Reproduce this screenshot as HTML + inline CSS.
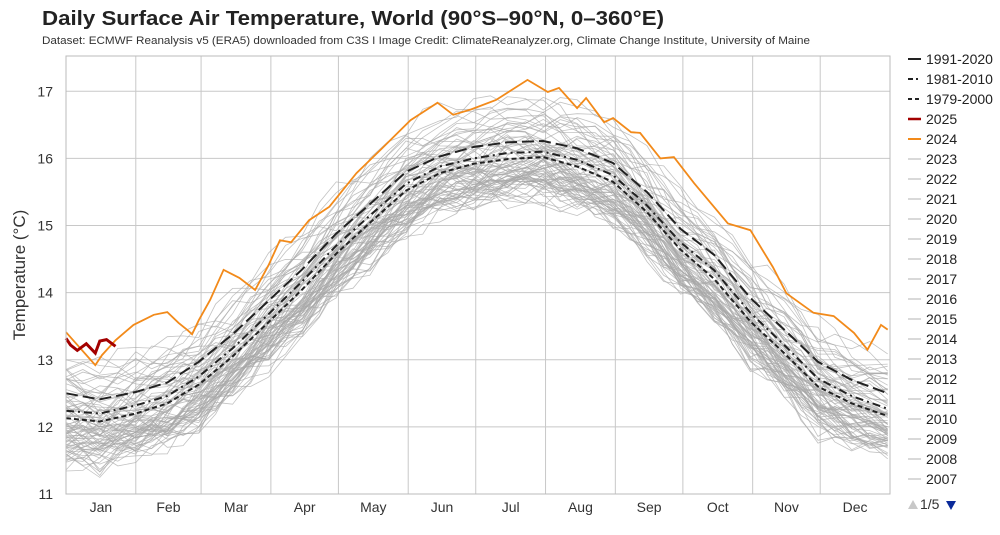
<!DOCTYPE html>
<html><head><meta charset="utf-8">
<style>
body{margin:0;background:#fff;width:1000px;height:530px;overflow:hidden;font-family:"Liberation Sans",sans-serif;}
svg text{font-family:"Liberation Sans",sans-serif;}
</style></head>
<body>
<svg id="chart" width="1000" height="530" viewBox="0 0 1000 530" xmlns="http://www.w3.org/2000/svg">
<text x="42" y="25" font-size="20.5" font-weight="bold" fill="#222" textLength="622" lengthAdjust="spacingAndGlyphs">Daily Surface Air Temperature, World (90°S–90°N, 0–360°E)</text>
<text x="42" y="44" font-size="10.8" fill="#333" textLength="768" lengthAdjust="spacingAndGlyphs">Dataset: ECMWF Reanalysis v5 (ERA5) downloaded from C3S I Image Credit: ClimateReanalyzer.org, Climate Change Institute, University of Maine</text>
<text transform="translate(25,275) rotate(-90)" text-anchor="middle" font-size="17" fill="#333">Temperature (°C)</text>
<g id="grid"></g>
<g id="grey"></g>
<g id="main"></g>
<g id="axes"></g>
<g id="legend"></g>
</svg>
<script>
const days = [0,15,31,45,59,74,90,105,120,135,151,166,181,196,212,227,243,258,273,288,304,319,334,349,365];
const clim9120 = [12.5,12.41,12.52,12.66,12.97,13.38,13.88,14.35,14.88,15.32,15.8,16.03,16.17,16.24,16.26,16.15,15.93,15.5,14.95,14.56,13.92,13.45,12.97,12.7,12.5];
const clim8110 = [12.24,12.2,12.32,12.46,12.75,13.17,13.68,14.17,14.7,15.15,15.62,15.88,16.0,16.08,16.1,15.98,15.75,15.3,14.75,14.33,13.7,13.22,12.72,12.46,12.27];
const clim7900 = [12.13,12.08,12.2,12.35,12.63,13.05,13.56,14.05,14.58,15.04,15.52,15.78,15.92,15.99,16.02,15.88,15.65,15.2,14.64,14.2,13.57,13.1,12.6,12.35,12.16];
const y2024Days = [0,13,16,22,30,39,45,50,54,56,59,64,70,77,84,90,95,100,108,117,129,141,153,165,172,180,191,205,214,219,227,231,239,243,251,255,264,270,279,294,304,314,320,332,341,350,356,362,365];
const y2024Vals = [13.41,12.92,13.07,13.29,13.52,13.67,13.71,13.55,13.44,13.38,13.59,13.89,14.34,14.22,14.04,14.41,14.78,14.75,15.08,15.28,15.78,16.17,16.57,16.83,16.65,16.73,16.87,17.17,16.99,17.05,16.75,16.9,16.54,16.6,16.39,16.38,16.0,16.02,15.63,15.03,14.93,14.38,13.99,13.7,13.65,13.4,13.15,13.52,13.45];
const y2025Days = [0,2,5,9,13,15,18,22];
const y2025Vals = [13.32,13.22,13.14,13.24,13.1,13.28,13.3,13.2];
const greyYears = [];for(let y=2023;y>=1940;y--)greyYears.push(y);
const greyOffsets = [0.62,0.45,0.38,0.52,0.4,0.3,0.42,0.6,0.48,0.28,0.2,0.25,0.3,0.12,0.22,0.28,0.15,0.1,0.2,0.08,0.32,0.1,0.02,0.05,0.12,-0.05,0.0,-0.08,0.05,-0.02,0.08,-0.1,-0.03,-0.12,0.0,-0.15,-0.06,-0.2,-0.1,-0.25,-0.05,-0.18,-0.28,-0.12,-0.22,-0.3,-0.08,-0.35,-0.2,-0.15,-0.32,-0.25,-0.4,-0.18,-0.3,-0.45,-0.22,-0.35,-0.28,-0.5,-0.15,-0.38,-0.3,-0.42,-0.25,-0.33,-0.48,-0.2,-0.36,-0.27,-0.44,-0.3,-0.52,-0.24,-0.38,-0.32,-0.4,-0.18,-0.46,-0.3,-0.35,-0.42,-0.26,-0.38];
const wig0 = [0.12,-0.1,0.05,0.18,-0.06,0.1,-0.12,0.02,0.14,-0.08,0.05,0.12,-0.05,0.1,-0.14,0.05,0.12,-0.1,0.02,0.14,-0.06,0.1,-0.12,0.05,0.12];
const wig1 = [-0.15,0.08,-0.04,-0.12,0.1,-0.02,0.14,-0.1,-0.03,0.12,-0.08,0.02,0.1,-0.12,0.06,-0.04,-0.1,0.12,-0.05,-0.1,0.08,-0.02,0.14,-0.06,-0.1];
const wig2 = [0.05,0.2,-0.1,0.02,0.15,-0.12,0.04,0.1,-0.14,0.02,0.16,-0.06,-0.1,0.08,0.12,-0.1,0.0,0.15,-0.12,0.05,0.18,-0.08,0.0,0.16,0.05];
const wig3 = [-0.2,-0.05,0.12,-0.1,-0.15,0.08,0.0,-0.12,0.1,0.05,-0.14,0.1,0.02,-0.06,0.0,0.14,-0.1,-0.05,0.12,-0.14,0.02,0.1,-0.08,-0.16,-0.1];
const wig4 = [0.02,-0.18,0.14,0.06,-0.1,0.16,-0.06,0.08,-0.02,-0.16,0.1,0.04,-0.12,0.15,-0.04,0.1,0.06,-0.12,0.1,0.02,-0.14,0.12,0.06,-0.1,0.0];
const wig5 = [0.18,0.04,-0.14,0.1,0.02,-0.08,0.16,-0.04,0.06,0.14,-0.12,-0.04,0.12,0.02,0.1,-0.12,0.14,0.04,-0.1,0.08,0.1,-0.14,0.04,0.12,0.16];
const wigs = [wig0,wig1,wig2,wig3,wig4,wig5];
const yTicks = [11,12,13,14,15,16,17];
const monthNames = ["Jan","Feb","Mar","Apr","May","Jun","Jul","Aug","Sep","Oct","Nov","Dec"];
const monthStarts = [0,31,60,91,121,152,182,213,244,274,305,335,366];
const legendLabels = ["1991-2020","1981-2010","1979-2000","2025","2024","2023","2022","2021","2020","2019","2018","2017","2016","2015","2014","2013","2012","2011","2010","2009","2008","2007"];

const X0=66,X1=890,YT=56,YB=494;
const xs = d => X0 + d*(X1-X0)/366;
const ys = t => YB - (t-11)*(YB-91.3)/6;
const NS="http://www.w3.org/2000/svg";
function mk(tag,parent,attrs){const e=document.createElementNS(NS,tag);for(const k in attrs)e.setAttribute(k,attrs[k]);parent.appendChild(e);return e;}
const grid=document.getElementById('grid'),grey=document.getElementById('grey'),main=document.getElementById('main'),axes=document.getElementById('axes'),legend=document.getElementById('legend');

yTicks.forEach(t=>{const l=mk('line',grid,{x1:X0,x2:X1,y1:ys(t),y2:ys(t),stroke:'#c8c8c8','stroke-width':1});


const tx=mk('text',axes,{x:53,y:ys(t)+5,'text-anchor':'end','font-size':14,fill:'#333'});tx.textContent=t;

});
monthStarts.slice(1,12).forEach(d=>{const l=mk('line',grid,{x1:xs(d),x2:xs(d),y1:YT,y2:YB,stroke:'#c8c8c8','stroke-width':1});

});
const frame=mk('rect',axes,{x:X0,y:YT,width:X1-X0,height:YB-YT,fill:'none',stroke:'#bbb','stroke-width':1});


monthNames.forEach((m,i)=>{const tx=mk('text',axes,{x:xs((monthStarts[i]+monthStarts[i+1])/2),y:512,'text-anchor':'middle','font-size':14,fill:'#333'});tx.textContent=m;

});

function path(dd,vv){return dd.map((d,i)=>(i?'L':'M')+xs(d).toFixed(1)+','+ys(vv[i]).toFixed(1)).join('');}
greyYears.forEach((yr,i)=>{const w=wigs[i%6],w2=wigs[(i*5+3)%6],w3=wigs[(i+2)%6];
const base=clim7900.map((c,j)=>c+greyOffsets[i]*1.3+0.05+w[j]*1.1+w2[(j+i)%25]*0.6);
const dd=[],vv=[];
for(let j=0;j<days.length;j++){dd.push(days[j]);vv.push(base[j]);
 if(j<days.length-1){const m=(days[j]+days[j+1])/2;dd.push(m);vv.push((base[j]+base[j+1])/2+w3[(j+i*3)%25]*0.9);}}
const p=mk('path',grey,{d:path(dd,vv),fill:'none',stroke:'#a8a8a8','stroke-width':0.8,'stroke-opacity':0.7});

});
const c1=mk('path',main,{d:path(days,clim7900),fill:'none',stroke:'#222','stroke-width':2,'stroke-dasharray':'5,3'});


const c2=mk('path',main,{d:path(days,clim8110),fill:'none',stroke:'#222','stroke-width':2,'stroke-dasharray':'8,4,2,4'});


const c3=mk('path',main,{d:path(days,clim9120),fill:'none',stroke:'#222','stroke-width':2,'stroke-dasharray':'12,5'});


const o=mk('path',main,{d:path(y2024Days,y2024Vals),fill:'none',stroke:'#f28a1a','stroke-width':1.8});


const r=mk('path',main,{d:path(y2025Days,y2025Vals),fill:'none',stroke:'#a30000','stroke-width':3});



legendLabels.forEach((lab,i)=>{const y=59+i*20;let st={stroke:'#ccc','stroke-width':1.5};
if(i===0)st={stroke:'#222','stroke-width':2};
if(i===1)st={stroke:'#222','stroke-width':2,'stroke-dasharray':'5,3,2,3'};
if(i===2)st={stroke:'#222','stroke-width':2,'stroke-dasharray':'4,3'};
if(i===3)st={stroke:'#a30000','stroke-width':2.5};
if(i===4)st={stroke:'#f28a1a','stroke-width':2};
const g=mk('g',legend,{});


mk('line',g,Object.assign({x1:908,x2:921,y1:y,y2:y},st));
const t=mk('text',g,{x:926,y:y+5,'font-size':14,fill:'#222'});t.textContent=lab;});
const up=mk('polygon',legend,{points:'908,509 913,500 918,509',fill:'#c8c8c8'});


const pg=mk('text',legend,{x:920,y:509,'font-size':14,fill:'#333'});pg.textContent='1/5';


const dn=mk('polygon',legend,{points:'946,501 956,501 951,510',fill:'#0a2a9a'});


</script>
</body></html>
